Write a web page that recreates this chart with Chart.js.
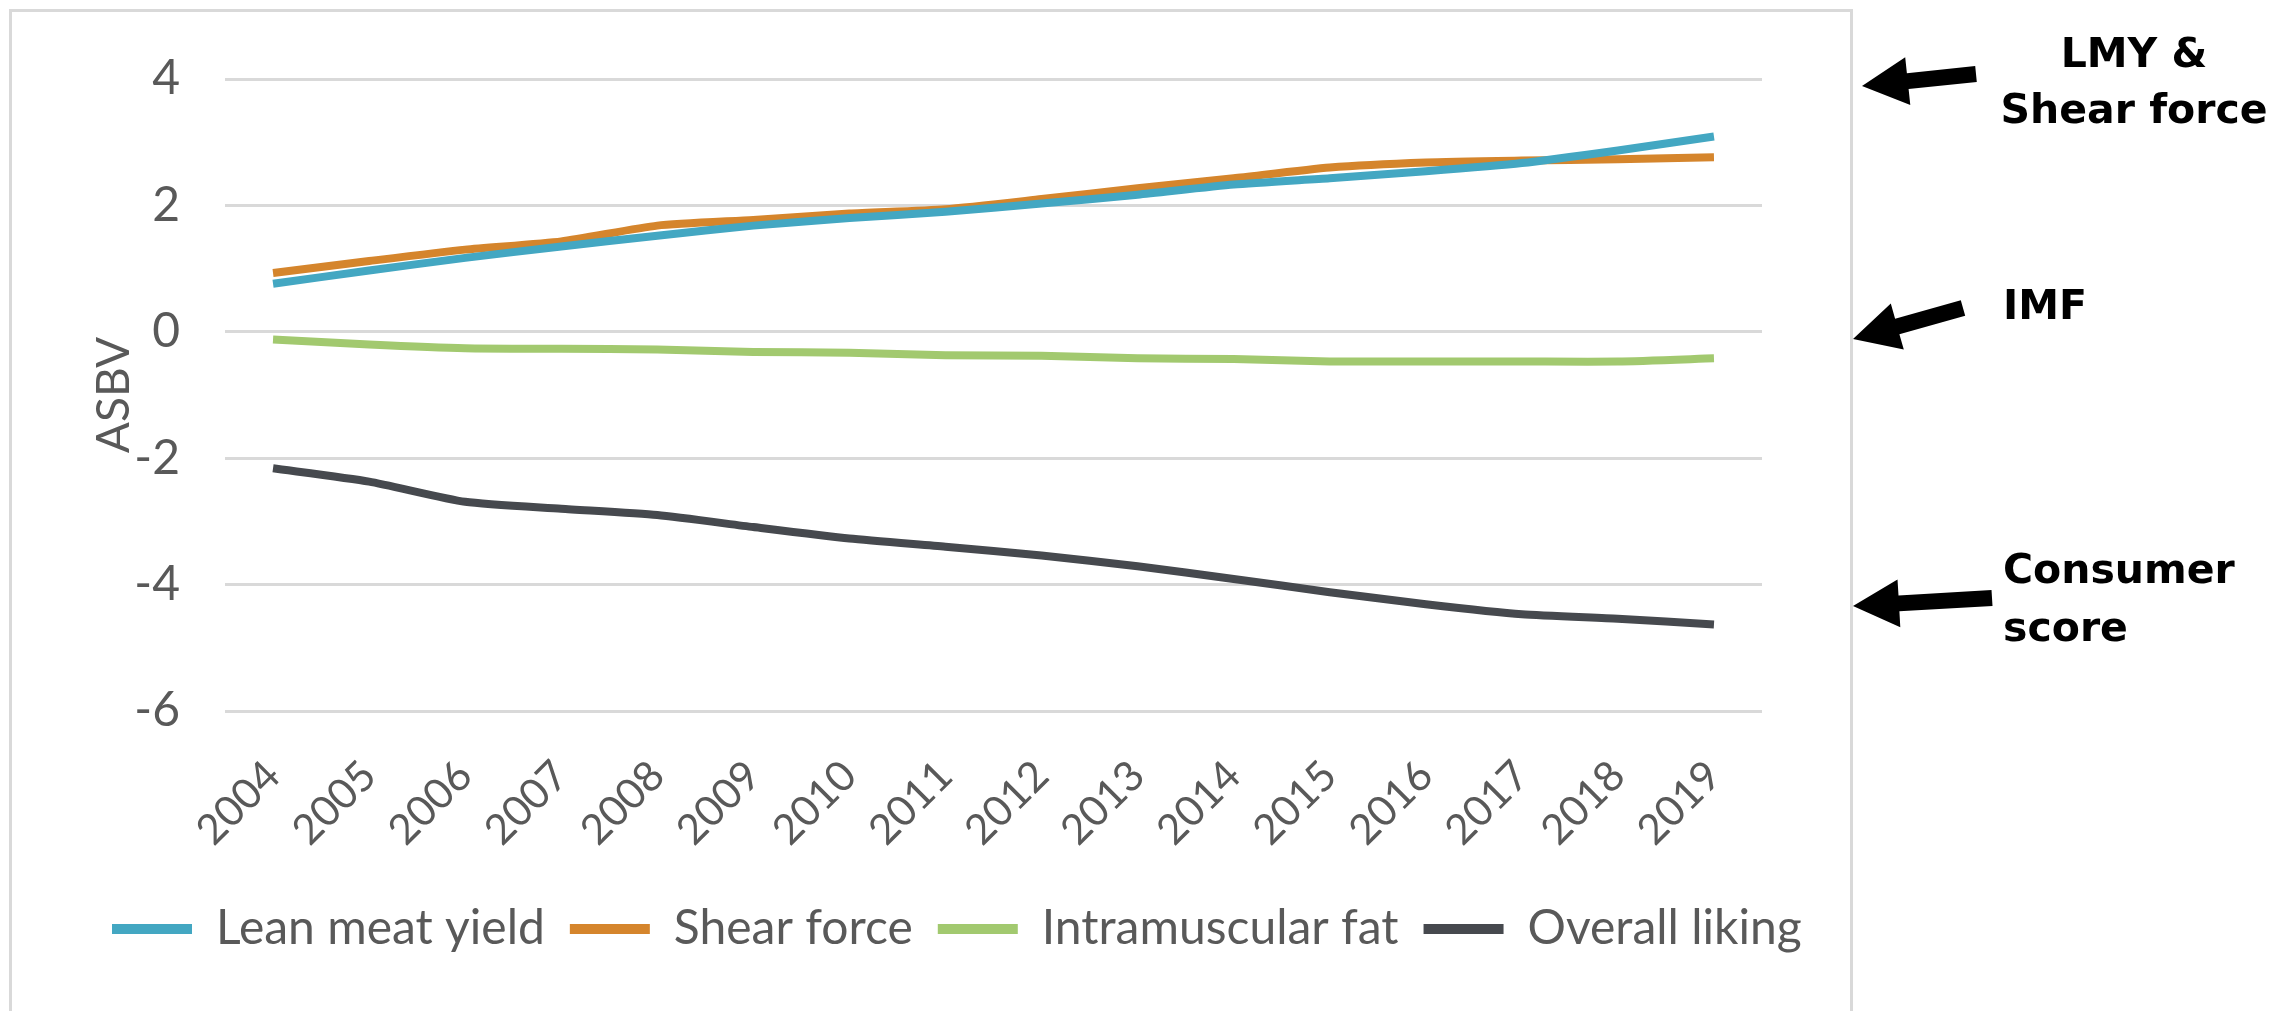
<!DOCTYPE html>
<html>
<head>
<meta charset="utf-8">
<script src="https://cdn.jsdelivr.net/npm/chart.js@4.4.1/dist/chart.umd.min.js"></script>
<style>
  html, body { margin: 0; padding: 0; background: #ffffff; }
  body { width: 2272px; height: 1011px; position: relative; overflow: hidden; }
  #frame { position: absolute; left: 9px; top: 9px; width: 1844px; height: 1030px;
           border: 3px solid #d9d9d9; box-sizing: border-box; }
  #chart { position: absolute; left: 0; top: 0; }
  #notes { position: absolute; left: 0; top: 0; }
  #notes text { font-family: "DejaVu Sans", sans-serif; font-weight: bold; font-size: 41px; fill: #000; }
</style>
</head>
<body>
<div id="frame"></div>
<canvas id="chart" width="2272" height="1011"></canvas>
<svg id="notes" width="2272" height="1011" xmlns="http://www.w3.org/2000/svg">
  <text x="2134" y="67" text-anchor="middle">LMY &amp;</text>
  <text x="2134" y="123" text-anchor="middle">Shear force</text>
  <text x="2003" y="319">IMF</text>
  <text x="2003" y="583">Consumer</text>
  <text x="2003" y="641">score</text>
  <g id="arrows" fill="#000"></g>
</svg>
<script>
// Breeding values by year
const years = ['2004', '2005', '2006', '2007', '2008', '2009', '2010', '2011',
               '2012', '2013', '2014', '2015', '2016', '2017', '2018', '2019'];
const leanMeatYield    = [0.76, 0.97, 1.17, 1.35, 1.52, 1.68, 1.80, 1.90, 2.03, 2.17, 2.33, 2.43, 2.54, 2.67, 2.87, 3.09];
const shearForce       = [0.93, 1.12, 1.30, 1.43, 1.68, 1.77, 1.87, 1.94, 2.10, 2.27, 2.43, 2.60, 2.68, 2.71, 2.73, 2.76];
const intramuscularFat = [-0.12, -0.20, -0.26, -0.27, -0.28, -0.32, -0.33, -0.37, -0.38, -0.42, -0.43, -0.47, -0.47, -0.47, -0.47, -0.42];
const overallLiking    = [-2.16, -2.37, -2.69, -2.80, -2.90, -3.09, -3.27, -3.40, -3.54, -3.71, -3.91, -4.12, -4.31, -4.47, -4.54, -4.63];

// Value axis range and step
const yMin = -6;
const yMax = 4;
const yStep = 2;

const seriesNames  = ['Lean meat yield', 'Shear force', 'Intramuscular fat', 'Overall liking'];
const seriesColors = ['#43a7c2', '#d5852c', '#a2c96f', '#46494e'];
const seriesValues = [leanMeatYield, shearForce, intramuscularFat, overallLiking];

const labelGrey = '#595959';

const datasets = seriesNames.map((name, i) => ({
  label: name,
  data: seriesValues[i],
  borderColor: seriesColors[i],
  backgroundColor: seriesColors[i],
  borderWidth: 8,
  pointRadius: 0,
  pointHoverRadius: 0,
  tension: 0.2,
  borderCapStyle: 'butt',
  borderJoinStyle: 'round'
}));

new Chart(document.getElementById('chart'), {
  type: 'line',
  data: { labels: years, datasets },
  options: {
    responsive: false,
    animation: false,
    events: [],
    layout: { padding: { left: 87, right: 400, top: 79, bottom: 48 } },
    scales: {
      x: {
        offset: true,
        grid: { display: false },
        border: { display: false },
        ticks: {
          autoSkip: false,
          minRotation: 45,
          maxRotation: 45,
          padding: 32,
          color: labelGrey,
          font: { family: 'Lato', size: 42 }
        },
        afterFit(scale) { scale.height = 169; }
      },
      y: {
        min: yMin,
        max: yMax,
        grid: { color: '#d9d9d9', lineWidth: 3, drawTicks: false },
        border: { display: false },
        ticks: {
          stepSize: yStep,
          padding: 45,
          color: labelGrey,
          font: { family: 'Lato', size: 48 }
        },
        title: {
          display: true,
          text: 'ASBV',
          color: labelGrey,
          font: { family: 'Lato', size: 46 },
          padding: { top: 0, bottom: 0 }
        },
        afterFit(scale) { scale.width = 138; }
      },
      spacer: {
        position: 'right',
        grid: { display: false },
        border: { display: false },
        ticks: { display: false },
        afterFit(scale) { scale.width = 110; }
      }
    },
    plugins: {
      tooltip: { enabled: false },
      legend: {
        position: 'bottom',
        align: 'start',
        labels: {
          color: labelGrey,
          font: { family: 'Lato', size: 48 },
          boxWidth: 80,
          boxHeight: 10,
          padding: 25,
          generateLabels(chart) {
            const items = Chart.defaults.plugins.legend.labels.generateLabels(chart);
            return items.map(it => Object.assign({}, it, { fillStyle: it.strokeStyle, lineWidth: 0 }));
          }
        }
      }
    }
  }
});

// Pointer arrows next to the annotation labels
function arrowPoints(tail, tip, shaft, headLen, headHalf) {
  const dx = tip[0] - tail[0], dy = tip[1] - tail[1];
  const len = Math.hypot(dx, dy);
  const ux = dx / len, uy = dy / len;
  const nx = -uy, ny = ux;
  const bx = tip[0] - ux * headLen, by = tip[1] - uy * headLen;
  const pts = [
    [tail[0] + nx * shaft, tail[1] + ny * shaft],
    [bx + nx * shaft, by + ny * shaft],
    [bx + nx * headHalf, by + ny * headHalf],
    tip,
    [bx - nx * headHalf, by - ny * headHalf],
    [bx - nx * shaft, by - ny * shaft],
    [tail[0] - nx * shaft, tail[1] - ny * shaft]
  ];
  return pts.map(p => p[0].toFixed(1) + ',' + p[1].toFixed(1)).join(' ');
}
const arrowSpecs = [
  { tail: [1976, 74], tip: [1862, 86] },
  { tail: [1963, 308], tip: [1853, 339] },
  { tail: [1992, 598], tip: [1853, 606] }
];
const g = document.getElementById('arrows');
arrowSpecs.forEach(a => {
  const poly = document.createElementNS('http://www.w3.org/2000/svg', 'polygon');
  poly.setAttribute('points', arrowPoints(a.tail, a.tip, 8, 46, 24));
  g.appendChild(poly);
});
</script>
</body>
</html>
